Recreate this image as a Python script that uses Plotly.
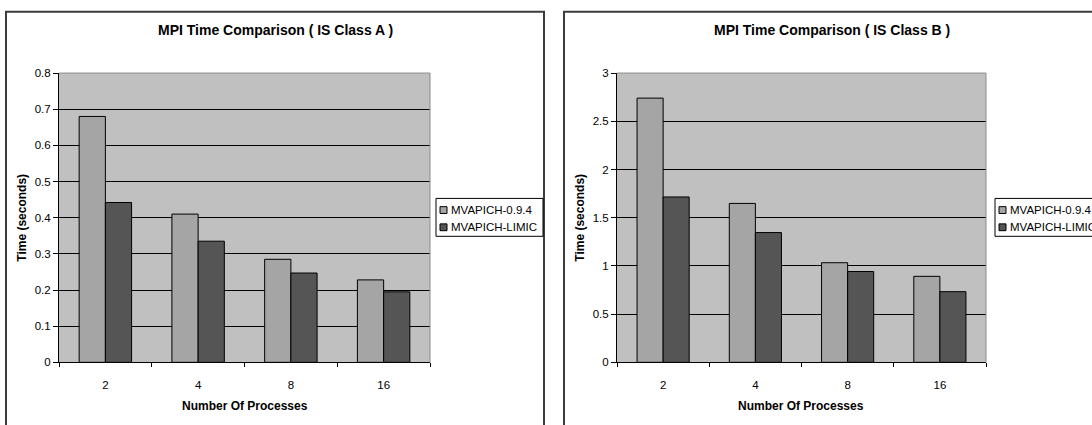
import plotly.graph_objects as go

# --- data -----------------------------------------------------------------
PROCESSES = ["2", "4", "8", "16"]
SERIES = ["MVAPICH-0.9.4", "MVAPICH-LIMIC"]
CLASS_A_094 = [0.68, 0.41, 0.285, 0.228]
CLASS_A_LIMIC = [0.442, 0.335, 0.247, 0.195]
CLASS_B_094 = [2.74, 1.648, 1.033, 0.892]
CLASS_B_LIMIC = [1.715, 1.346, 0.942, 0.733]
TITLES = ["MPI Time Comparison ( IS Class A )", "MPI Time Comparison ( IS Class B )"]
Y_RANGES = [(0, 0.8, 0.1), (0, 3, 0.5)]
X_TITLE = "Number Of Processes"
Y_TITLE = "Time (seconds)"

# --- styling --------------------------------------------------------------
W, H = 1092, 425
COLORS = ["#A5A5A5", "#555555"]
PLOT_BG = "#C0C0C0"
FONT = "Liberation Sans, Arial, sans-serif"


def fx(px):
    return px / W


def fy(py):
    return 1 - py / H


# pixel geometry of each panel: frame left/right, plot left/right, legend left
PANELS = [
    dict(frame=(6, 544), plot=(59, 430), legend=436),
    dict(frame=(564, 1120), plot=(617, 986), legend=995),
]
PLOT_TOP, PLOT_BOTTOM = 69, 366.7

fig = go.Figure()
shapes = []
annotations = []

panel_values = [(CLASS_A_094, CLASS_A_LIMIC), (CLASS_B_094, CLASS_B_LIMIC)]

for i, (panel, values, title, yr) in enumerate(zip(PANELS, panel_values, TITLES, Y_RANGES)):
    sfx = "" if i == 0 else str(i + 1)
    for name, vals, color in zip(SERIES, values, COLORS):
        fig.add_trace(go.Bar(
            x=PROCESSES, y=vals, name=name,
            marker=dict(color=color, line=dict(color="black", width=1)),
            xaxis="x" + sfx, yaxis="y" + sfx, showlegend=False,
        ))

    x0p, x1p = panel["plot"]
    fig.update_layout(**{
        "xaxis" + sfx: dict(
            domain=[fx(x0p), fx(x1p)], anchor="y" + sfx, type="category",
            tickson="boundaries", ticks="outside", ticklen=4, tickcolor="black",
            ticklabelstandoff=12,
            showline=True, linecolor="black", linewidth=1, showgrid=False,
            tickfont=dict(family=FONT, size=11.5, color="black"),
        ),
        "yaxis" + sfx: dict(
            domain=[fy(PLOT_BOTTOM), fy(PLOT_TOP)], anchor="x" + sfx,
            range=[yr[0], yr[1]], dtick=yr[2], tick0=0,
            ticks="outside", ticklen=5, tickcolor="black",
            showline=True, linecolor="black", linewidth=1,
            showgrid=True, gridcolor="black", gridwidth=1, zeroline=False,
            tickfont=dict(family=FONT, size=11.5, color="black"),
        ),
    })

    # gray plot-area border on top and right
    xr, yr_ = "x" + sfx + " domain", "y" + sfx + " domain"
    shapes.append(dict(type="line", xref=xr, yref=yr_, x0=0, x1=1, y0=1, y1=1,
                       line=dict(color="#8C8C8C", width=1)))
    shapes.append(dict(type="line", xref=xr, yref=yr_, x0=1, x1=1, y0=0, y1=1,
                       line=dict(color="#8C8C8C", width=1)))

    # chart frame
    f0, f1 = panel["frame"]
    shapes.append(dict(type="rect", xref="paper", yref="paper",
                       x0=fx(f0), x1=fx(f1), y0=fy(6), y1=-0.2,
                       line=dict(color="#3C3C3C", width=2)))

    # titles
    annotations.append(dict(text="<b>%s</b>" % title, xref="paper", yref="paper",
                            x=fx((f0 + min(f1, 1100)) / 2), y=fy(25),
                            xanchor="center", yanchor="middle", showarrow=False,
                            font=dict(family=FONT, size=14, color="black")))
    annotations.append(dict(text="<b>%s</b>" % X_TITLE, xref="paper", yref="paper",
                            x=fx((x0p + x1p) / 2), y=fy(412),
                            xanchor="center", yanchor="middle", showarrow=False,
                            font=dict(family=FONT, size=12, color="black")))
    annotations.append(dict(text="<b>%s</b>" % Y_TITLE, xref="paper", yref="paper",
                            x=fx(x0p - 37), y=fy((PLOT_TOP + PLOT_BOTTOM) / 2),
                            xanchor="center", yanchor="middle", showarrow=False,
                            textangle=-90,
                            font=dict(family=FONT, size=12, color="black")))

    # legend box
    lx = panel["legend"]
    shapes.append(dict(type="rect", xref="paper", yref="paper",
                       x0=fx(lx), x1=fx(lx + 107), y0=fy(198), y1=fy(237),
                       fillcolor="white", line=dict(color="black", width=1)))
    for k, (name, color) in enumerate(zip(SERIES, COLORS)):
        cy = 210 + k * 17.7
        shapes.append(dict(type="rect", xref="paper", yref="paper",
                           x0=fx(lx + 4), x1=fx(lx + 11),
                           y0=fy(cy - 3.5), y1=fy(cy + 3.5),
                           fillcolor=color, line=dict(color="black", width=1)))
        annotations.append(dict(text=name, xref="paper", yref="paper",
                                x=fx(lx + 13), y=fy(cy),
                                xanchor="left", yanchor="middle", showarrow=False,
                                font=dict(family=FONT, size=11.5, color="black")))

fig.update_layout(
    width=W, height=H,
    margin=dict(l=0, r=0, t=0, b=0),
    paper_bgcolor="white", plot_bgcolor=PLOT_BG,
    barmode="group", bargap=0.435, bargroupgap=0,
    shapes=shapes, annotations=annotations,
    font=dict(family=FONT, color="black"),
)

fig.write_html("out.html")
